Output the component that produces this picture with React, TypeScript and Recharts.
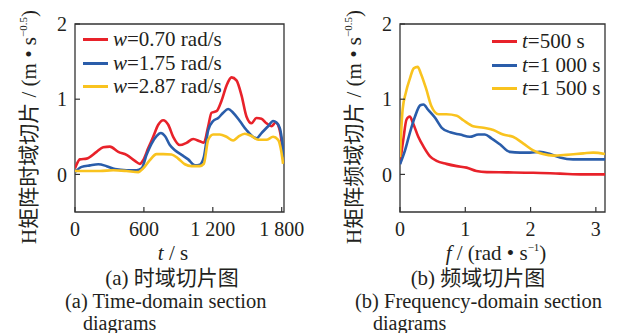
import { LineChart, Line, XAxis, YAxis, ReferenceArea } from 'recharts';

// time-domain slices (a)
const timeTicks = [0, 600, 1200, 1800];
const ampTicks = [0, 1, 2];
const timeNames = ['w=0.70 rad/s', 'w=1.75 rad/s', 'w=2.87 rad/s'];

const tRed = [0, 43, 101, 188, 246, 304, 377, 449, 522, 565, 594, 638, 681, 725, 768, 812, 855, 913, 971, 1029, 1087, 1122, 1160, 1189, 1232, 1276, 1319, 1363, 1406, 1450, 1493, 1537, 1580, 1624, 1667, 1711, 1748, 1777, 1797, 1812];
const vRed = [0.08, 0.2, 0.21, 0.3, 0.36, 0.37, 0.3, 0.26, 0.18, 0.14, 0.19, 0.35, 0.5, 0.66, 0.72, 0.66, 0.5, 0.39, 0.42, 0.47, 0.44, 0.42, 0.64, 0.82, 0.84, 0.98, 1.18, 1.29, 1.25, 1.05, 0.77, 0.68, 0.75, 0.74, 0.68, 0.64, 0.69, 0.62, 0.46, 0.23];

const tBlue = [0, 58, 130, 203, 275, 348, 449, 536, 580, 623, 667, 710, 748, 783, 826, 870, 928, 986, 1044, 1087, 1122, 1160, 1203, 1247, 1290, 1334, 1377, 1435, 1493, 1542, 1580, 1624, 1682, 1725, 1754, 1783, 1806, 1818];
const vBlue = [0.03, 0.1, 0.12, 0.135, 0.11, 0.07, 0.055, 0.055, 0.08, 0.26, 0.41, 0.51, 0.55, 0.51, 0.39, 0.32, 0.26, 0.2, 0.12, 0.13, 0.23, 0.59, 0.71, 0.75, 0.82, 0.87, 0.82, 0.71, 0.59, 0.51, 0.48, 0.55, 0.64, 0.71, 0.69, 0.62, 0.41, 0.23];

const tYellow = [0, 101, 217, 333, 449, 551, 594, 652, 710, 768, 841, 899, 957, 1015, 1087, 1122, 1160, 1203, 1261, 1319, 1377, 1421, 1479, 1537, 1595, 1667, 1725, 1769, 1797, 1812];
const vYellow = [0.045, 0.045, 0.045, 0.055, 0.045, 0.03, 0.08, 0.19, 0.27, 0.27, 0.265, 0.21, 0.135, 0.11, 0.11, 0.14, 0.46, 0.53, 0.53, 0.5, 0.45, 0.5, 0.54, 0.51, 0.46, 0.46, 0.5, 0.46, 0.3, 0.14];

// frequency-domain slices (b)
const freqTicks = [0, 1, 2, 3];
const freqNames = ['t=500 s', 't=1 000 s', 't=1 500 s'];

const fRed = [0, 0.05, 0.1, 0.15, 0.2, 0.28, 0.36, 0.46, 0.56, 0.71, 0.87, 1.02, 1.17, 1.33, 1.63, 2.04, 2.45, 2.81, 3.14];
const sRed = [0.14, 0.46, 0.73, 0.77, 0.68, 0.5, 0.37, 0.24, 0.18, 0.14, 0.11, 0.09, 0.045, 0.03, 0.027, 0.022, 0.01, 0, 0];

const fBlue = [0, 0.077, 0.15, 0.23, 0.31, 0.36, 0.43, 0.54, 0.64, 0.77, 0.92, 1.07, 1.2, 1.3, 1.4, 1.53, 1.68, 1.84, 1.99, 2.14, 2.3, 2.45, 2.65, 2.91, 3.14];
const sBlue = [0.135, 0.32, 0.55, 0.77, 0.92, 0.93, 0.86, 0.75, 0.62, 0.56, 0.53, 0.5, 0.53, 0.53, 0.48, 0.4, 0.3, 0.29, 0.29, 0.3, 0.27, 0.225, 0.2, 0.2, 0.2];

const fYellow = [0, 0.04, 0.09, 0.15, 0.21, 0.27, 0.32, 0.4, 0.48, 0.59, 0.71, 0.87, 0.97, 1.12, 1.28, 1.43, 1.58, 1.73, 1.89, 2.04, 2.19, 2.35, 2.55, 2.81, 2.96, 3.14];
const sYellow = [0.23, 0.86, 1.09, 1.27, 1.41, 1.43, 1.34, 1.14, 0.91, 0.8, 0.8, 0.78, 0.72, 0.64, 0.62, 0.59, 0.53, 0.5, 0.41, 0.32, 0.27, 0.25, 0.26, 0.28, 0.29, 0.27];

const colors = ['#e8222a', '#2a5daa', '#f9c31f'];

const SERIF = "'Liberation Serif', 'Times New Roman', 'Noto Sans CJK SC', serif";
const INK = '#231f20';

const zip = (xs: number[], ys: number[]) => xs.map((x, i) => ({ x, v: ys[i] }));

const timeSeries = [zip(tRed, vRed), zip(tBlue, vBlue), zip(tYellow, vYellow)];
const freqSeries = [zip(fRed, sRed), zip(fBlue, sBlue), zip(fYellow, sYellow)];

const fmtThousands = (v: number) =>
  v >= 1000 ? `${Math.floor(v / 1000)} ${String(v % 1000).padStart(3, '0')}` : String(v);

const tickStyle = { fill: INK, fontSize: 20, fontFamily: SERIF };

// legend drawn as html rows: short coloured bar + name with italic first letter
function LegendBox({ left, top, names }: { left: number; top: number; names: string[] }) {
  return (
    <div style={{ position: 'absolute', left, top, fontFamily: SERIF, fontSize: 21, color: INK }}>
      {names.map((name, i) => (
        <div key={name} style={{ display: 'flex', alignItems: 'center', height: 23.5, whiteSpace: 'nowrap' }}>
          <span style={{ display: 'inline-block', width: 25, height: 3, background: colors[i], marginRight: 5 }} />
          <span>
            <i>{name.charAt(0)}</i>
            {name.slice(1)}
          </span>
        </div>
      ))}
    </div>
  );
}

function Panel({ series, names, domain, ticks, fmt, yWidth, plotWidth, right }: any) {
  return (
    <LineChart width={yWidth + plotWidth + right} height={250} margin={{ top: 24, right, bottom: 0, left: 0 }}>
      <ReferenceArea
        x1={domain[0]}
        x2={domain[1]}
        y1={-0.5}
        y2={2}
        fill="none"
        stroke="#333"
        strokeWidth={1.3}
        ifOverflow="visible"
      />
      <XAxis
        type="number"
        dataKey="x"
        domain={domain}
        ticks={ticks}
        allowDataOverflow
        height={38}
        axisLine={false}
        tickSize={-5}
        tickMargin={15}
        tickLine={{ stroke: '#333', strokeWidth: 1.2 }}
        tick={tickStyle}
        tickFormatter={fmt}
        interval={0}
      />
      <YAxis
        type="number"
        domain={[-0.5, 2]}
        ticks={ampTicks}
        allowDataOverflow
        width={yWidth}
        axisLine={false}
        tickSize={-5}
        tickMargin={13}
        tickLine={{ stroke: '#333', strokeWidth: 1.2 }}
        tick={tickStyle}
        interval={0}
      />
      {series.map((d: any, i: number) => (
        <Line
          key={names[i]}
          data={d}
          dataKey="v"
          name={names[i]}
          type="monotone"
          stroke={colors[i]}
          strokeWidth={2.6}
          dot={false}
          activeDot={false}
          isAnimationActive={false}
        />
      ))}
    </LineChart>
  );
}

export default function App() {
  const ylabel = (x: number, text: string) => (
    <div
      style={{
        position: 'absolute',
        left: x,
        top: 127,
        transform: 'translate(-50%, -50%) rotate(-90deg)',
        whiteSpace: 'nowrap',
        fontFamily: SERIF,
        fontSize: 21,
        lineHeight: 1,
        color: INK,
      }}
    >
      {text} / (m • s<sup style={{ fontSize: 11, verticalAlign: 9 }}>−0.5</sup>)
    </div>
  );

  const text = (left: number, top: number, content: any, center = false, size = 21) => (
    <div
      style={{
        position: 'absolute',
        left,
        top,
        transform: center ? 'translate(-50%, -50%)' : 'translateY(-50%)',
        whiteSpace: 'nowrap',
        fontFamily: SERIF,
        fontSize: size,
        lineHeight: 1,
        color: INK,
      }}
    >
      {content}
    </div>
  );

  return (
    <div style={{ position: 'absolute', left: 0, top: 0, width: 619, height: 333, background: '#fff', overflow: 'hidden' }}>
      <div style={{ position: 'absolute', left: 0, top: 0 }}>
        <Panel series={timeSeries} names={timeNames} domain={[0, 1820]} ticks={timeTicks} fmt={fmtThousands} yWidth={75} plotWidth={209} right={22} />
      </div>
      <LegendBox left={83} top={28} names={timeNames} />

      <div style={{ position: 'absolute', left: 310, top: 0 }}>
        <Panel series={freqSeries} names={freqNames} domain={[0, 3.14]} ticks={freqTicks} fmt={(v: number) => String(v)} yWidth={90} plotWidth={205} right={14} />
      </div>
      <LegendBox left={492} top={30} names={freqNames} />

      {ylabel(29, 'H矩阵时域切片')}
      {ylabel(354, 'H矩阵频域切片')}

      {text(173, 253, <><i>t</i> / s</>, true)}
      {text(496, 253, <><i>f</i> / (rad • s<sup style={{ fontSize: 11, verticalAlign: 9 }}>−1</sup>)</>, true)}

      {text(172, 278, '(a)  时域切片图', true)}
      {text(65, 301, '(a)  Time-domain section', false, 20.5)}
      {text(83, 323, 'diagrams', false, 20)}

      {text(478, 278, '(b)  频域切片图', true)}
      {text(355, 301, '(b)  Frequency-domain section', false, 20.5)}
      {text(373, 323, 'diagrams', false, 20)}
    </div>
  );
}
